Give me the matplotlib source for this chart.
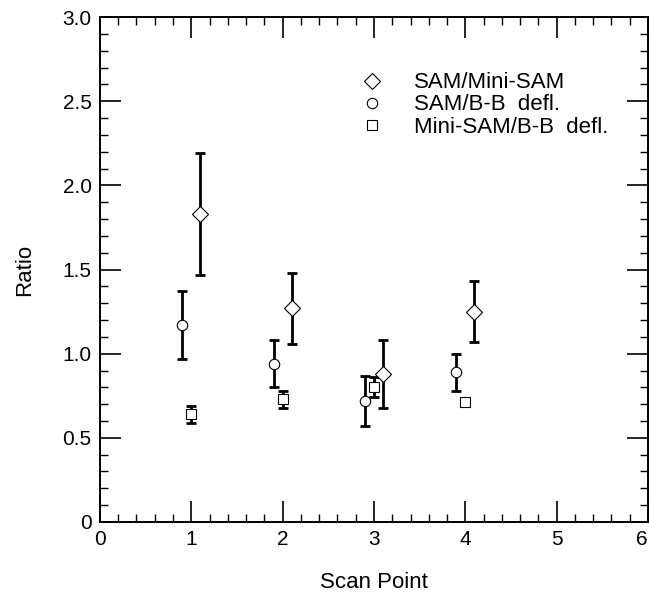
import matplotlib
matplotlib.use("Agg")
import matplotlib.pyplot as plt
from matplotlib.ticker import MultipleLocator, FixedLocator

plt.rcParams['font.family'] = ['Liberation Sans', 'DejaVu Sans']

# Data
scan_points = [1, 2, 3, 4]

sam_mini_x = [1.1, 2.1, 3.1, 4.1]
sam_mini_y = [1.83, 1.27, 0.88, 1.25]
sam_mini_err = [0.36, 0.21, 0.20, 0.18]

sam_bb_x = [0.9, 1.9, 2.9, 3.9]
sam_bb_y = [1.17, 0.94, 0.72, 0.89]
sam_bb_err = [0.20, 0.14, 0.15, 0.11]

mini_bb_x = [1.0, 2.0, 3.0, 4.0]
mini_bb_y = [0.64, 0.73, 0.80, 0.71]
mini_bb_err = [0.05, 0.05, 0.06, 0.02]

labels = ["SAM/Mini-SAM", "SAM/B-B  defl.", "Mini-SAM/B-B  defl."]
xticklabels = ["0", "1", "2", "3", "4", "5", "6"]
yticklabels = ["0", "0.5", "1.0", "1.5", "2.0", "2.5", "3.0"]

fig = plt.figure(figsize=(6.49, 5.95), dpi=100)
ax = fig.add_axes([0.154, 0.1227, 0.8445, 0.8487])

series = [
    (sam_mini_x, sam_mini_y, sam_mini_err, 'D', 8.5),
    (sam_bb_x, sam_bb_y, sam_bb_err, 'o', 7.5),
    (mini_bb_x, mini_bb_y, mini_bb_err, 's', 6.5),
]
handles = []
for (x, y, e, m, ms), lab in zip(series, labels):
    ax.errorbar(x, y, yerr=e, fmt='none', ecolor='black', elinewidth=2.0,
                capsize=3.5, capthick=2.0, zorder=2)
    h, = ax.plot(x, y, linestyle='none', marker=m, markersize=ms,
                 markerfacecolor='white', markeredgecolor='black',
                 markeredgewidth=0.8, zorder=3, label=lab)
    handles.append(h)

ax.set_xlim(0, 6)
ax.set_ylim(0, 3)
ax.xaxis.set_major_locator(FixedLocator([0, 1, 2, 3, 4, 5, 6]))
ax.set_xticklabels(xticklabels)
ax.yaxis.set_major_locator(FixedLocator([0, 0.5, 1.0, 1.5, 2.0, 2.5, 3.0]))
ax.set_yticklabels(yticklabels)
ax.xaxis.set_minor_locator(MultipleLocator(0.2))
ax.yaxis.set_minor_locator(MultipleLocator(0.1))
ax.tick_params(which='both', direction='in', top=True, right=True,
               color='black', labelsize=15)
ax.tick_params(which='major', length=15, width=1.2, pad=6)
ax.tick_params(which='minor', length=5.5, width=1.0)
for s in ax.spines.values():
    s.set_linewidth(1.4)
xl = ax.get_xticklabels()
xl[-1].set_horizontalalignment('right')

ax.set_xlabel("Scan Point", fontsize=16, labelpad=16)
ax.set_ylabel("Ratio", fontsize=16, labelpad=20)

leg = ax.legend(handles=handles, loc='upper left', bbox_to_anchor=(0.44, 0.93),
                frameon=False, fontsize=16, handletextpad=1.4,
                labelspacing=0.05, handlelength=1.0)

fig.savefig("out.png", dpi=100)
